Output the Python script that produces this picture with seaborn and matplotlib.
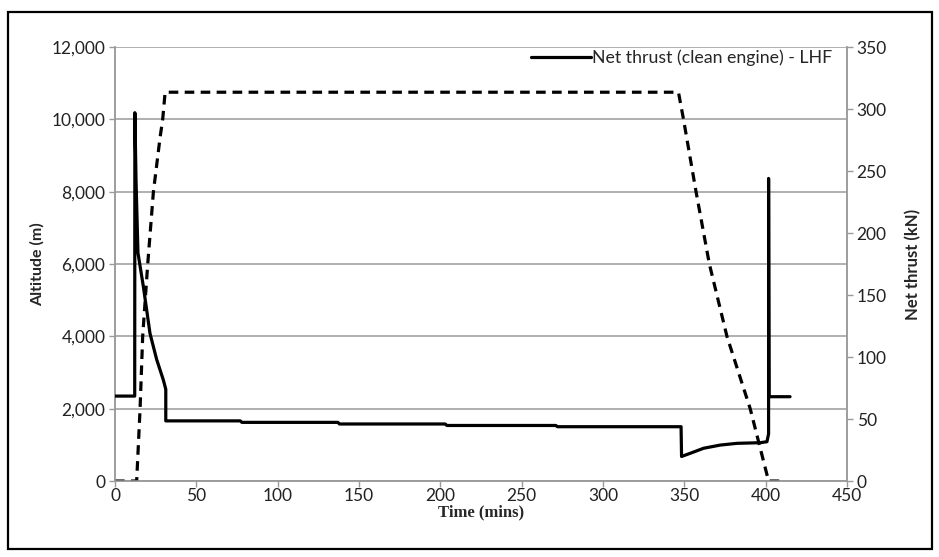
import matplotlib
matplotlib.use("Agg")
import matplotlib.pyplot as plt
from matplotlib.patches import Rectangle
from matplotlib.ticker import FuncFormatter, MultipleLocator
import pandas as pd
import seaborn as sns

# altitude profile (left axis, m)
time_alt = [0, 13.3, 15.4, 17.0, 20.1, 23.6, 27.7, 29.3, 30.8,
            346.4, 349.5, 357.2, 365.4, 376.2, 390.5, 401.8, 411]
altitude = [0, 0, 2000, 4000, 6000, 8000, 9500, 10000, 10750,
            10750, 10000, 8000, 6000, 4000, 2000, 0, 0]

# net thrust (right axis, kN)
time_thrust = [0, 12.1, 12.2, 12.9, 14.1, 17.4, 21.5, 25.6, 29.7, 30.8, 31.2, 31.2,
               77, 78, 137, 138, 203, 204, 271, 272, 348, 348.3,
               353.5, 361.8, 372.1, 382.4, 396.7, 400.8, 401.8, 401.8, 402.1, 415]
thrust = [68.5, 68.5, 297, 243, 184, 157, 119, 98, 81.5, 76, 74, 48.5,
          48.5, 47.3, 47.3, 46.0, 46.0, 44.8, 44.8, 43.8, 43.8, 19.8,
          22.3, 26.4, 29.0, 30.4, 30.9, 31.7, 38, 244, 68, 68]

df_alt = pd.DataFrame({"time": time_alt, "alt": altitude})
df_thr = pd.DataFrame({"time": time_thrust, "thrust": thrust})

sns.set_style("white")
plt.rcParams["font.family"] = ["Lato", "DejaVu Sans"]

fig = plt.figure(figsize=(9.39, 5.57), dpi=100)
ax = fig.add_axes([0.1225, 0.1364, 0.7795, 0.7792])
ax2 = ax.twinx()

grey = "#9a9a9a"

sns.lineplot(data=df_alt, x="time", y="alt", ax=ax, sort=False, estimator=None,
             errorbar=None, color="black", linewidth=2.3, legend=False, zorder=3)
ax.lines[0].set_dashes((3, 2))

sns.lineplot(data=df_thr, x="time", y="thrust", ax=ax2, sort=False, estimator=None,
             errorbar=None, color="black", linewidth=2.3,
             label="Net thrust (clean engine) - LHF", zorder=4)

ax.set_xlim(0, 450)
ax.set_ylim(0, 12000)
ax2.set_ylim(0, 350)
ax.xaxis.set_major_locator(MultipleLocator(50))
ax.yaxis.set_major_locator(MultipleLocator(2000))
ax2.yaxis.set_major_locator(MultipleLocator(50))
ax.yaxis.set_major_formatter(FuncFormatter(lambda v, p: f"{int(v):,}"))

ax.grid(axis="y", color=grey, linewidth=1.1)
ax.grid(axis="x", visible=False)
ax.set_axisbelow(True)

for a in (ax, ax2):
    a.spines["top"].set_visible(False)
    for side in ("left", "right", "bottom"):
        a.spines[side].set_color(grey)
        a.spines[side].set_linewidth(1.1)
    a.tick_params(axis="both", direction="out", length=4, width=1, color=grey,
                  labelsize=12.5, labelcolor="#222222")
ax.tick_params(axis="y", left=True, pad=3)
ax.tick_params(axis="x", bottom=True, pad=1)
ax2.tick_params(axis="y", right=True, pad=3)

ax.set_xlabel("Time (mins)", fontsize=12, fontweight="bold",
              family=["Liberation Serif", "DejaVu Serif"], labelpad=0)
ax.set_ylabel("Altitude (m)", fontsize=11.5, fontweight="bold", labelpad=5)
ax2.set_ylabel("Net thrust (kN)", fontsize=12, fontweight="bold", labelpad=13)

leg = ax2.legend(loc="upper right", frameon=False, fontsize=12.8, handlelength=3.4,
                 handletextpad=0.05, borderaxespad=0.0, bbox_to_anchor=(0.99, 1.01))

fig.patches.append(Rectangle((0.0085, 0.0144), 0.984, 0.9636, transform=fig.transFigure,
                             fill=False, edgecolor="black", linewidth=1.6))

fig.savefig("out.png", dpi=100)
